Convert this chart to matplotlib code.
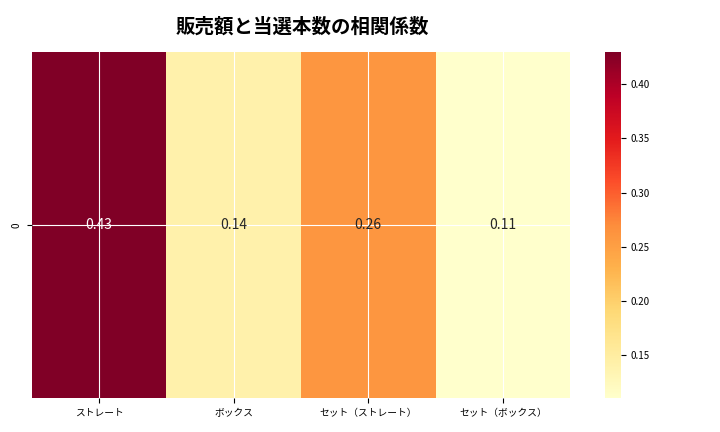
import numpy as np
import matplotlib
matplotlib.use("Agg")
from matplotlib import pyplot as plt
import seaborn as sns

plt.rcParams["font.family"] = "Noto Sans CJK JP"

CATEGORIES = ["ストレート", "ボックス", "セット（ストレート）", "セット（ボックス）"]
CORR = [0.43, 0.14, 0.26, 0.11]


def main():
    fig = plt.figure(figsize=(7.2, 4.32), dpi=100)
    ax = fig.add_axes([0.044, 0.078, 0.748, 0.802])
    cax = fig.add_axes([0.84, 0.078, 0.022, 0.802])
    data = np.array([CORR])
    sns.heatmap(data, ax=ax, cbar_ax=cax, cmap="YlOrRd", annot=True, fmt=".2f",
                annot_kws={"fontsize": 10}, xticklabels=CATEGORIES, yticklabels=["0"])
    ax.grid(True, color="white", linewidth=0.8)
    ax.set_axisbelow(False)
    ax.tick_params(axis="x", labelsize=7, rotation=0)
    ax.tick_params(axis="y", labelsize=7)
    cax.tick_params(labelsize=7)
    fig.suptitle("販売額と当選本数の相関係数", x=0.42, y=0.96, fontsize=14, fontweight="bold")
    fig.savefig("out.png", dpi=100)


if __name__ == "__main__":
    main()
